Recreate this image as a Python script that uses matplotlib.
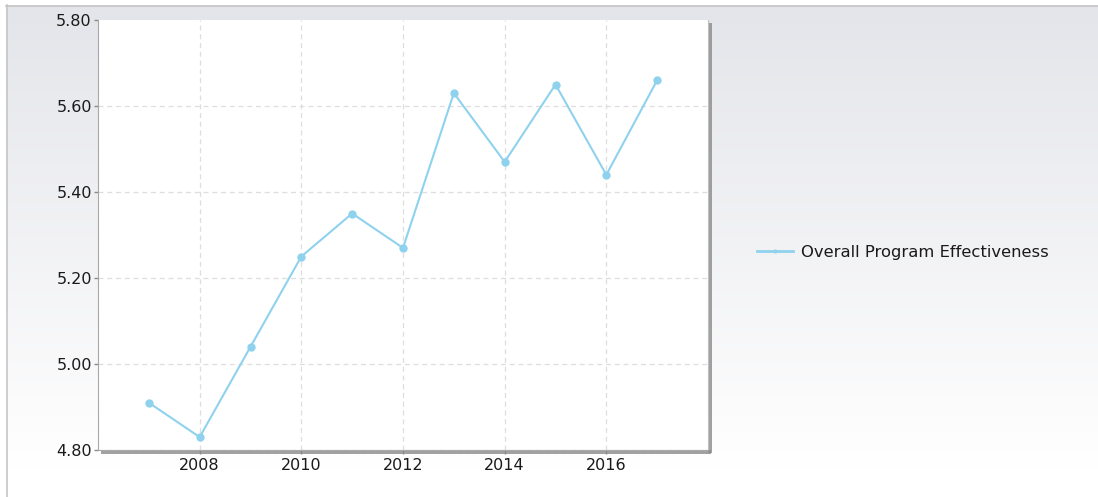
import numpy as np
import matplotlib
matplotlib.use("Agg")
import matplotlib.pyplot as plt
from matplotlib.lines import Line2D

# === data ===
YEARS = [2007, 2008, 2009, 2010, 2011, 2012, 2013, 2014, 2015, 2016, 2017]
EFFECTIVENESS = [4.91, 4.83, 5.04, 5.25, 5.35, 5.27, 5.63, 5.47, 5.65, 5.44, 5.66]
SERIES_NAME = "Overall Program Effectiveness"
X_TICKS = [2008, 2010, 2012, 2014, 2016]
Y_TICKS = [4.80, 5.00, 5.20, 5.40, 5.60, 5.80]

LINE_COLOR = "#8fd2ee"
TEXT_COLOR = "#1a1a1a"
GRID_COLOR = "#dedede"

plt.rcParams['font.family'] = ['DejaVu Sans']

W, H = 1098, 497
fig = plt.figure(figsize=(W / 100, H / 100), dpi=100)
fig.patch.set_facecolor("white")

# --- background panel with vertical gradient ---
bg = fig.add_axes([0, 0, 1, 1], zorder=-10)
bg.set_xlim(0, W)
bg.set_ylim(H, 0)
bg.axis("off")
grad = np.linspace(0, 1, 256).reshape(-1, 1)
top = np.array([0.894, 0.898, 0.918])
bottom = np.array([1.0, 1.0, 1.0])
img = top + (bottom - top) * grad[:, :, None]
bg.imshow(img, extent=[6, W, 470, 5], aspect="auto", interpolation="bilinear")
bg.plot([6, W], [5.5, 5.5], color="#c6c6c6", lw=1.2)
bg.plot([6.5, 6.5], [5, H], color="#c6c6c6", lw=1.2)

# --- plot area shadow ---
x0, x1, y0, y1 = 98, 708, 20, 450
bg.add_patch(plt.Rectangle((x1, y0 + 3), 4, y1 - y0, color="#8a8a8a", alpha=0.8, lw=0))
bg.add_patch(plt.Rectangle((x0 + 3, y1), x1 - x0, 4, color="#8a8a8a", alpha=0.8, lw=0))

ax = fig.add_axes([x0 / W, 1 - y1 / H, (x1 - x0) / W, (y1 - y0) / H])
ax.set_facecolor("white")

ax.plot(YEARS, EFFECTIVENESS, color=LINE_COLOR, lw=1.5, marker="o", ms=6,
        markeredgewidth=0, zorder=3)

ax.set_xlim(2006, 2018)
ax.set_ylim(4.80, 5.80)
ax.set_xticks(X_TICKS)
ax.set_yticks(Y_TICKS)
ax.set_yticklabels([f"{v:.2f}" for v in Y_TICKS])
ax.grid(True, color=GRID_COLOR, linestyle=(0, (4, 3)), lw=0.9)
ax.set_axisbelow(True)
# no line along the top edge
ax.get_ygridlines()[-1].set_visible(False)

ax.tick_params(axis="both", colors="#8a8a8a", labelcolor=TEXT_COLOR,
               labelsize=11.5, length=3, width=1, direction="out")
ax.tick_params(axis="y", pad=1.5)
ax.tick_params(axis="x", pad=2.5)

ax.spines["top"].set_visible(False)
ax.spines["left"].set_color("#a8a8a8")
ax.spines["right"].set_color("#c0c0c0")
ax.spines["bottom"].set_color("#a8a8a8")

# --- legend ---
handle = Line2D([], [], color=LINE_COLOR, lw=2, marker="o", ms=3, markeredgewidth=0)
fig.legend([handle], [SERIES_NAME], loc="center left",
           bbox_to_anchor=(742 / W, 1 - 252 / H), frameon=False,
           fontsize=11.8, labelcolor=TEXT_COLOR, handlelength=2.2, handletextpad=0.5)

fig.savefig("out.png", dpi=100, facecolor=fig.get_facecolor())
